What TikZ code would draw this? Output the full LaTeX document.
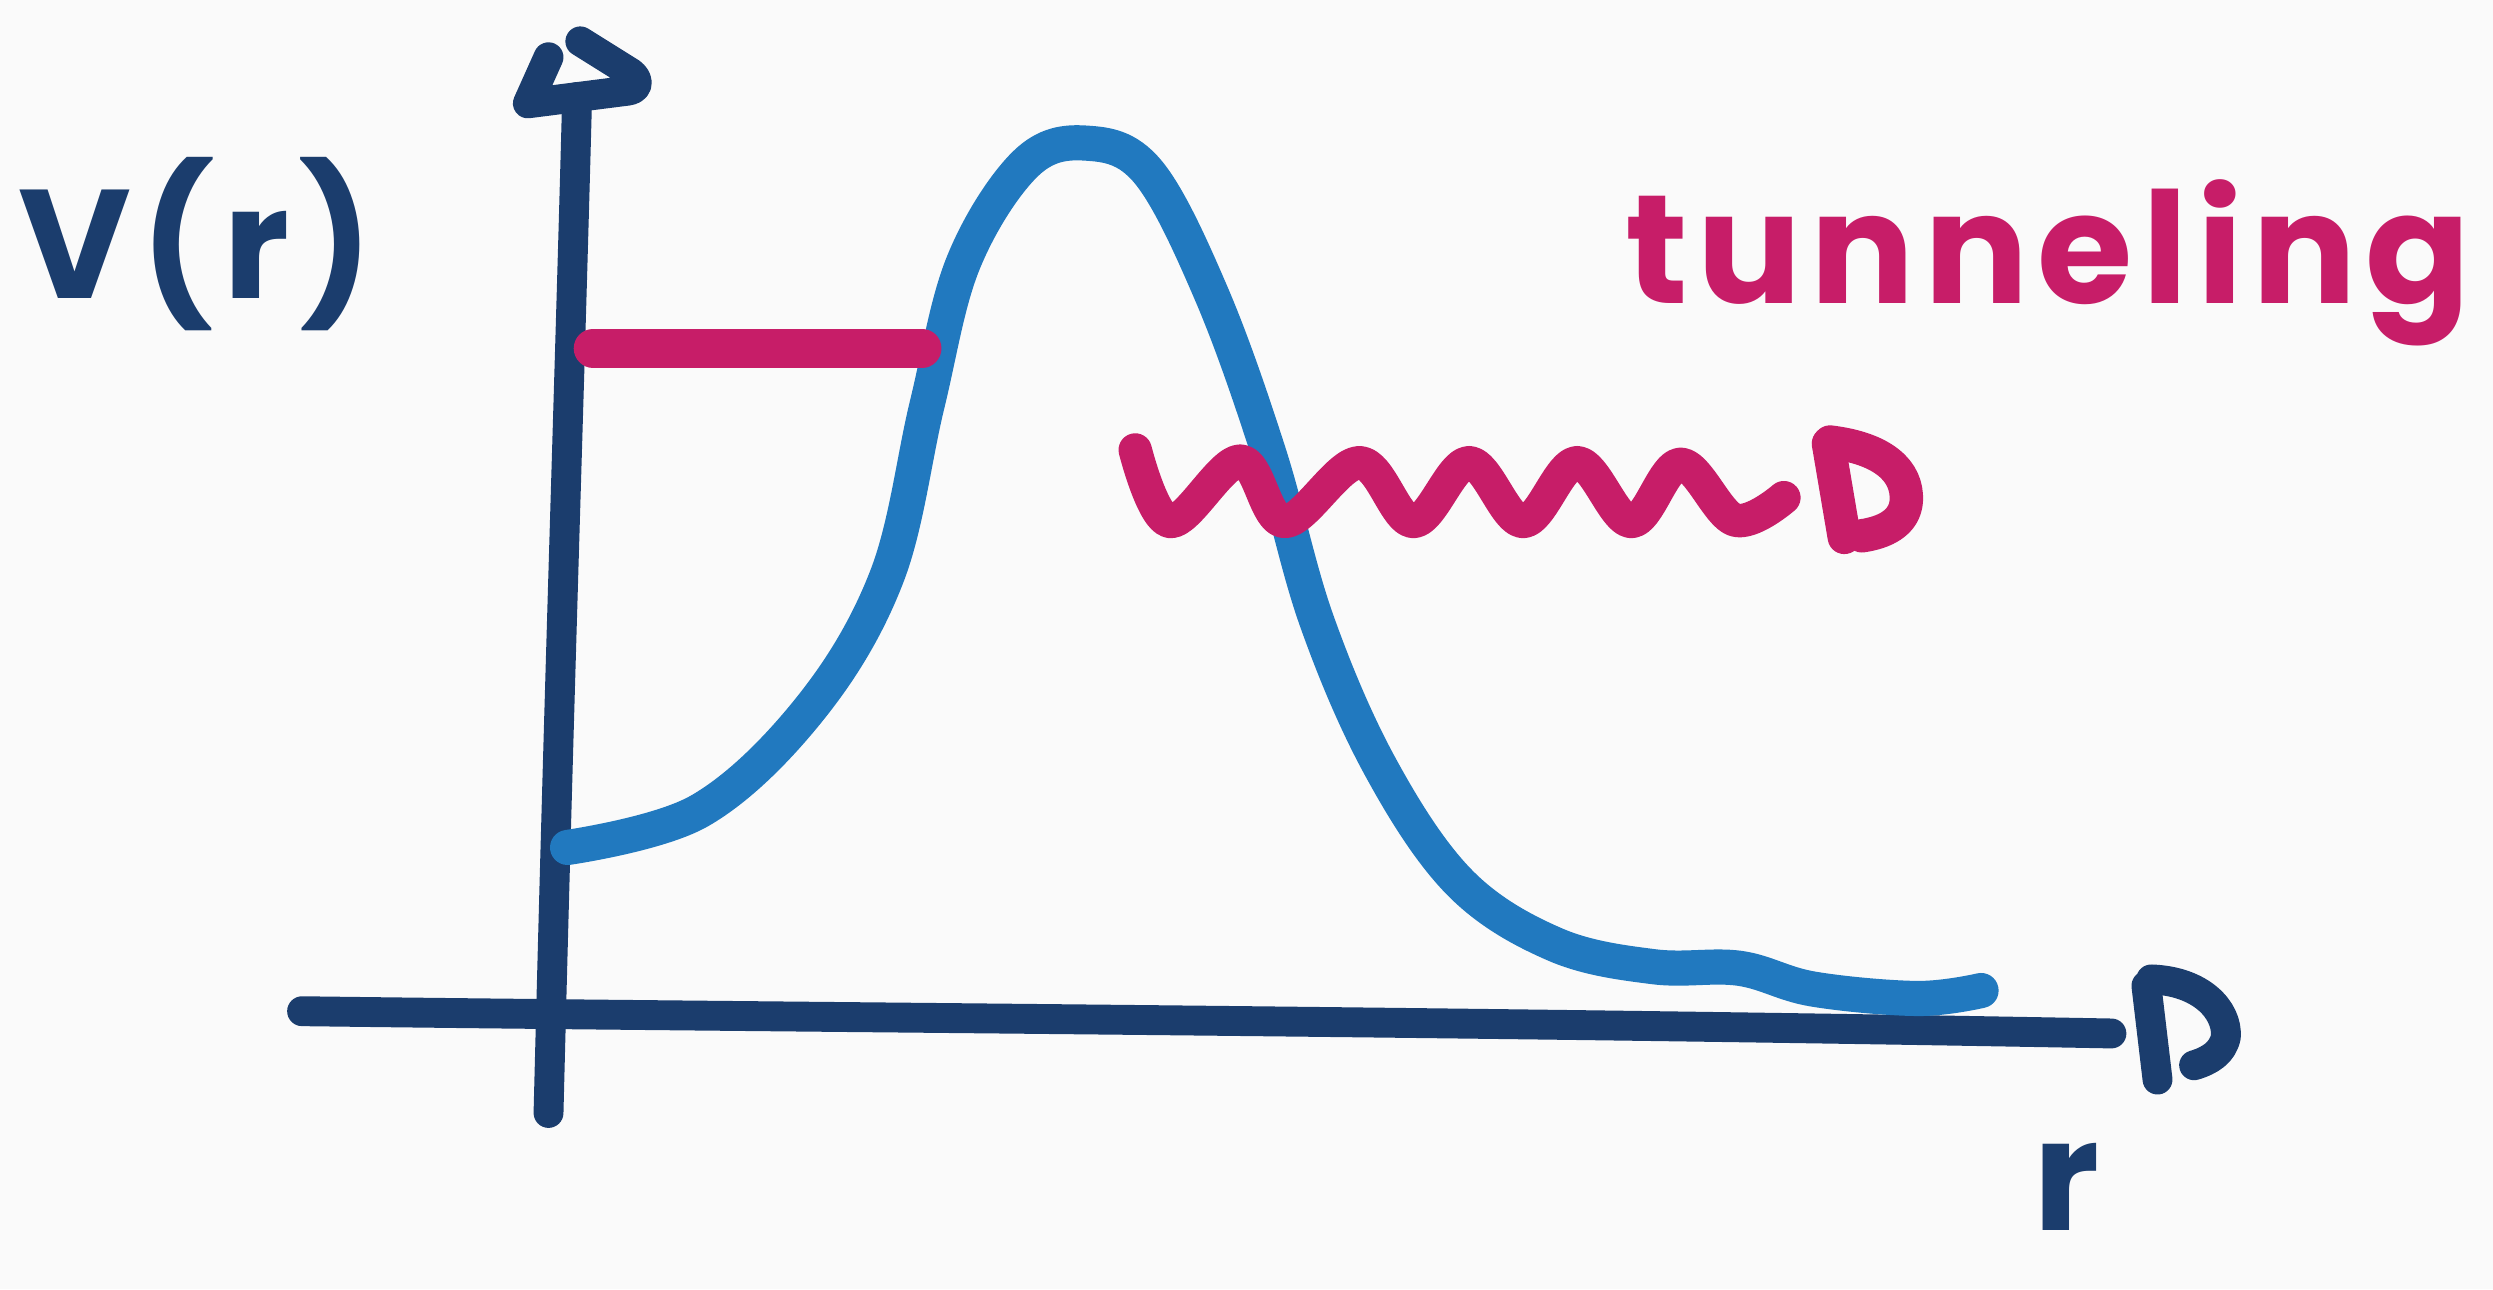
\documentclass[tikz,border=0pt]{standalone}
\usepackage{fontspec}
\newfontfamily\hand[LetterSpace=6]{Poppins}
\usepackage{tikz}

\definecolor{navy}{HTML}{1B3D6D}
\definecolor{curveblue}{HTML}{2179BF}
\definecolor{pink}{HTML}{C71D68}
\definecolor{paper}{HTML}{FAFAFA}

\begin{document}
\begin{tikzpicture}[x=0.159mm, y=-0.159mm, line cap=round, line join=round,
    axis/.style={navy, line width=8.5pt},
    pot/.style={curveblue, line width=10pt},
    pen/.style={pink, line width=9.5pt},
    lbl/.style={font=\hand\bfseries\fontsize{44}{48}\selectfont, inner sep=0pt, anchor=base}]
                \fill[paper] (0,0) rectangle (1568,811);
                \useasboundingbox (0,0) rectangle (1568,811);
                \coordinate (ybot) at (345,700);
                \coordinate (ytop) at (363,61);
                \coordinate (xleft) at (190,636);
                \coordinate (xright) at (1328,650);
                % axes
                \draw[axis] (ybot) .. controls (352,420) and (358,250) .. (ytop);
                \draw[axis] (345,36) -- (332,65) -- (395,57) .. controls (402,56) and (402,50) .. (397,46) -- (365,26);
                \draw[axis] (xleft) .. controls (500,640) and (900,642) .. (xright);
                \draw[axis] (1350,620) -- (1357,679);
                \draw[axis] (1353,616) .. controls (1384,617) and (1401,635) .. (1400,652) .. controls (1398,662) and (1390,667) .. (1380,670);
                \node[lbl, navy] (V) at (123,188) {V(r)};
                \node[lbl, navy] (r) at (1300,774) {r};
                % potential
                \draw[pot] plot[smooth, tension=0.6] coordinates {(357,533) (440,510) (510,445) (558,362) (583,255) (606,165) (645,103) (683,90) (722,108) (762,185) (798,285) (828,390) (868,482) (918,555) (978,594) (1040,608) (1094,609) (1140,622) (1206,628) (1246,623)};
                % bound level and tunneling
                \draw[pen, line width=11pt] (373,219) -- (580,219);
                \draw[pen] plot[smooth, tension=0.6] coordinates {(714,283) (736,328) (780,290) (808,328) (855,291) (889,328) (924,291) (958,328) (992,291) (1026,328) (1057,292) (1091,327) (1122,313)};
                \draw[pen] (1150,279) -- (1160,338);
                \draw[pen] (1151,278) .. controls (1184,282) and (1200,296) .. (1199,315) .. controls (1198,329) and (1185,335) .. (1171,337);
                \node[lbl, pink] (tun) at (1288,191) {tunneling};
            \end{tikzpicture}
\end{document}
